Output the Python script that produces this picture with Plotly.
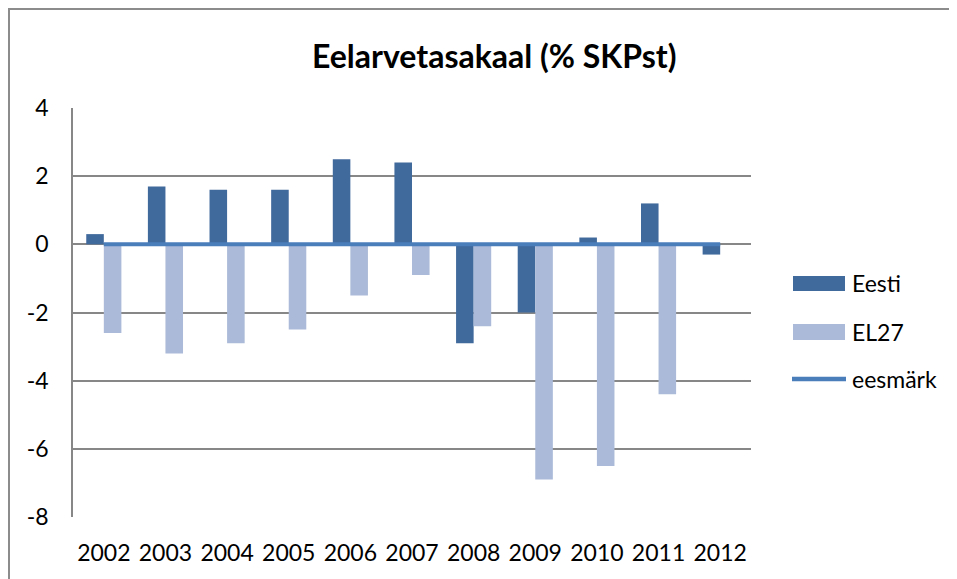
import plotly.graph_objects as go

years = ["2002", "2003", "2004", "2005", "2006", "2007", "2008", "2009", "2010", "2011", "2012"]
eesti = [0.3, 1.7, 1.6, 1.6, 2.5, 2.4, -2.9, -2.0, 0.2, 1.2, -0.3]
el27 = [-2.6, -3.2, -2.9, -2.5, -1.5, -0.9, -2.4, -6.9, -6.5, -4.4, None]
eesmark = [0, 0, 0, 0, 0, 0, 0, 0, 0, 0, 0]
series_names = ["Eesti", "EL27", "eesmärk"]
title_text = "Eelarvetasakaal (% SKPst)"
y_ticks = [-8, -6, -4, -2, 0, 2, 4]
y_tick_labels = ["-8", "-6", "-4", "-2", "0", "2", "4"]

C_EESTI = "#40699c"
C_EL27 = "#abbad8"
C_LINE = "#4a7ebb"
GRID = "#878787"
FONT = "Lato, 'Open Sans', sans-serif"

W, H = 957, 579
OFF = 8  # page body margin
# target screen positions of the plot area
SL, SR, ST, SB = 73, 751, 108, 517
PL, PR, PT, PB = SL - OFF, SR - OFF, ST - OFF, SB - OFF


def px(x):
    return (x - SL) / (SR - SL)


def py(y):
    return (SB - y) / (SB - ST)


fig = go.Figure()
fig.add_trace(go.Bar(x=years, y=eesti, name=series_names[0], marker_color=C_EESTI,
                     marker_line_width=0, showlegend=False))
fig.add_trace(go.Bar(x=years, y=el27, name=series_names[1], marker_color=C_EL27,
                     marker_line_width=0, showlegend=False))
fig.add_trace(go.Scatter(x=years, y=eesmark, name=series_names[2], mode="lines",
                         line=dict(color=C_LINE, width=4), showlegend=False))

shapes = []
# outer chart border
shapes.append(dict(type="rect", xref="paper", yref="paper",
                   x0=px(9), x1=px(1000), y0=py(620), y1=py(9),
                   line=dict(color="#8c8c8c", width=2), fillcolor="rgba(0,0,0,0)", layer="below"))
# custom legend
shapes.append(dict(type="rect", xref="paper", yref="paper",
                   x0=px(793), x1=px(845), y0=py(291), y1=py(276),
                   line=dict(width=0), fillcolor=C_EESTI))
shapes.append(dict(type="rect", xref="paper", yref="paper",
                   x0=px(793), x1=px(845), y0=py(340), y1=py(324),
                   line=dict(width=0), fillcolor=C_EL27))
shapes.append(dict(type="line", xref="paper", yref="paper",
                   x0=px(792), x1=px(846), y0=py(379), y1=py(379),
                   line=dict(width=4.5, color=C_LINE)))

annotations = []
for name, yc in zip(series_names, [283, 332, 379]):
    annotations.append(dict(text=name, xref="paper", yref="paper", x=px(850), y=py(yc),
                             xanchor="left", yanchor="middle", showarrow=False,
                             font=dict(family=FONT, size=23, color="#000000")))
annotations.append(dict(text="<b>" + title_text + "</b>", xref="paper", yref="paper",
                        x=px(494), y=py(55), xanchor="center", yanchor="middle",
                        showarrow=False, font=dict(family=FONT, size=32, color="#000000")))

fig.update_layout(
    width=W, height=H,
    margin=dict(l=PL, r=W - PR, t=PT, b=H - PB, pad=0),
    paper_bgcolor="white", plot_bgcolor="white",
    barmode="group", bargap=0.43, bargroupgap=0,
    shapes=shapes, annotations=annotations,
    font=dict(family=FONT, size=23, color="#000000"),
    showlegend=False,
)
fig.update_xaxes(type="category", showgrid=False, showline=False, zeroline=False,
                 ticks="", tickfont=dict(family=FONT, size=23), ticklabelstandoff=20)
fig.update_yaxes(range=[-8, 4], tickvals=y_ticks, ticktext=y_tick_labels,
                 showgrid=True, gridcolor=GRID, gridwidth=1.5,
                 zeroline=True, zerolinecolor=GRID, zerolinewidth=1.5,
                 showline=True, linecolor=GRID, linewidth=1.5,
                 ticks="", tickfont=dict(family=FONT, size=23), ticklabelstandoff=18)

fig.write_html("out.html")
